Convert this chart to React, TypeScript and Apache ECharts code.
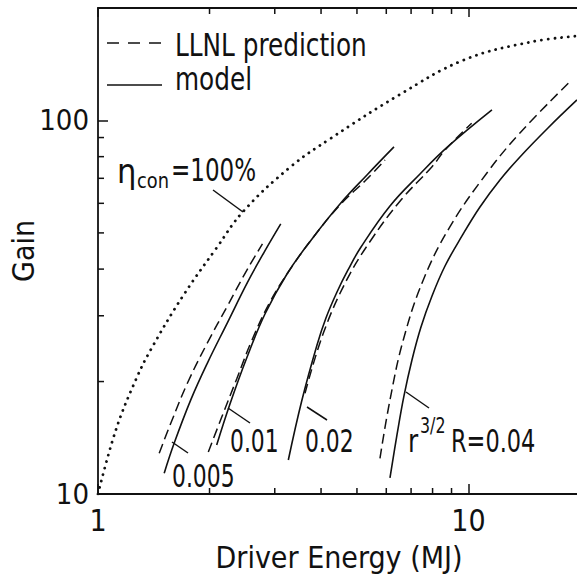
import React, { useEffect, useRef } from "react";
import * as echarts from "echarts";

// ---- axes ----
const X_MIN = 1;
const X_MAX = 20;
const Y_MIN = 10;
const Y_MAX = 200;
const xTickLabels = [1, 10];
const yTickLabels = [10, 100];
const xMinorTicks = [2, 3, 4, 5, 6, 7, 8, 9];
const yMinorTicks = [20, 30, 40, 50, 60, 70, 80, 90];

// ---- eta_con = 100 % (dotted) ----
const eta100X = [1, 1.118, 1.266, 1.39, 1.694, 2.08, 2.475, 3.313, 4.246, 6.48, 9.69, 14.69, 20];
const eta100Y = [10, 14.86, 20.26, 24.4, 33.85, 45.3, 57.3, 75.2, 89.5, 116.8, 145.0, 162.1, 168.5];

// ---- r^{3/2}R = 0.005 ----
const model005X = [1.509, 1.606, 1.781, 1.975, 2.236, 2.532, 2.807, 3.114];
const model005Y = [11.37, 13.69, 17.89, 22.45, 28.77, 36.86, 44.36, 52.86];
const llnl005X = [1.463, 1.573, 1.745, 1.975, 2.236, 2.532, 2.779];
const llnl005Y = [12.86, 15.49, 19.85, 25.42, 31.88, 40.01, 46.71];

// ---- r^{3/2}R = 0.01 ----
const model01X = [2.091, 2.271, 2.52, 2.823, 3.237, 3.781, 4.5, 5.321, 6.294];
const model01Y = [13.53, 17.42, 23.13, 30.33, 38.82, 48.18, 59.76, 71.46, 84.95];
const llnl01X = [1.985, 2.158, 2.368, 2.604, 2.912, 3.237, 3.781, 4.5, 5.288, 5.953];
const llnl01Y = [12.96, 16.07, 20.32, 25.84, 32.66, 38.82, 48.18, 59.4, 69.29, 78.39];

// ---- r^{3/2}R = 0.02 ----
const model02X = [3.264, 3.547, 3.901, 4.124, 4.417, 4.729, 5.128, 6.139, 7.398, 8.75, 11.57];
const model02Y = [12.33, 17.74, 25.06, 29.6, 34.74, 39.79, 45.84, 59.03, 71.9, 84.69, 106.7];
const llnl02X = [3.62, 4.056, 4.692, 5.458, 6.574, 7.972, 8.643, 10.2];
const llnl02Y = [18.61, 26.93, 37.41, 47.86, 61.25, 75.19, 83.37, 98.28];

// ---- r^{3/2}R = 0.04 ----
const model04X = [6.139, 6.412, 6.697, 7.038, 7.444, 7.972, 8.643, 9.605, 10.74, 12.16, 13.77, 16.39, 19.63];
const model04Y = [11.04, 14.39, 18.3, 22.85, 28.0, 33.89, 40.77, 49.07, 58.67, 69.29, 79.86, 95.48, 113.5];
const llnl04X = [5.769, 6.139, 6.668, 7.551, 8.916, 11.2, 13.77, 18.6];
const llnl04Y = [12.46, 17.85, 25.84, 37.41, 51.96, 72.22, 92.58, 125.8];

const legendLabels = ["LLNL prediction", "model"];

const FONT = "'DejaVu Sans Condensed', 'DejaVu Sans', sans-serif";
const INK = "#111";

const toPairs = (xs: number[], ys: number[]) => xs.map((x, i) => [x, ys[i]]);
const isTick = (v: number, list: number[]) => list.some((t) => Math.abs(v - t) < t * 1e-6);

export default function App() {
  const ref = useRef<HTMLDivElement>(null);

  useEffect(() => {
    const chart = echarts.init(ref.current!, null, { renderer: "svg" });

    const solid = (name: string, xs: number[], ys: number[]) => ({
      type: "line",
      name,
      data: toPairs(xs, ys),
      showSymbol: false,
      smooth: 0.4,
      silent: true,
      lineStyle: { color: INK, width: 1.6 },
      z: 3,
    });
    const dashed = (name: string, xs: number[], ys: number[]) => ({
      type: "line",
      name,
      data: toPairs(xs, ys),
      showSymbol: false,
      smooth: 0.4,
      silent: true,
      lineStyle: { color: INK, width: 1.5, type: [10, 5] },
      z: 3,
    });

    const tickStyle = { stroke: INK, lineWidth: 1.5 };
    const txt = (text: string, x: number, y: number, size = 32, sx = 0.86) => ({
      type: "text",
      x,
      y,
      scaleX: sx,
      silent: true,
      style: {
        text,
        fontSize: size,
        fontFamily: FONT,
        fill: INK,
        align: "left",
        verticalAlign: "middle",
      },
    });
    const seg = (x1: number, y1: number, x2: number, y2: number, dash?: number[]) => ({
      type: "line",
      silent: true,
      shape: { x1, y1, x2, y2 },
      style: { stroke: INK, lineWidth: 1.5, lineDash: dash || null },
    });

    const axisCommonLine = { show: true, lineStyle: { color: INK, width: 1.8 } };

    const option: any = {
      animation: false,
      backgroundColor: "#fff",
      grid: {
        left: 98,
        top: 8,
        width: 482,
        height: 486,
        containLabel: false,
        outerBoundsMode: "none",
      },
      xAxis: [
        {
          type: "log",
          logBase: 10,
          min: X_MIN,
          max: X_MAX,
          position: "bottom",
          name: "Driver Energy (MJ)",
          nameLocation: "middle",
          nameGap: 48,
          nameMoveOverlap: false,
          nameTextStyle: { fontSize: 30, fontFamily: FONT, color: INK },
          axisLine: axisCommonLine,
          axisTick: { show: true, inside: true, length: 10, lineStyle: { color: INK, width: 1.5 } },
          axisLabel: {
            fontSize: 30,
            fontFamily: FONT,
            color: INK,
            margin: 11,
            showMaxLabel: false,
            formatter: (v: number) => (isTick(v, xTickLabels) ? String(Math.round(v)) : ""),
          },
          splitLine: { show: false },
        },
        {
          type: "log",
          logBase: 10,
          min: X_MIN,
          max: X_MAX,
          position: "top",
          axisLine: axisCommonLine,
          axisTick: { show: true, inside: true, length: 9, lineStyle: { color: INK, width: 1.5 } },
          axisLabel: { show: false },
          splitLine: { show: false },
        },
      ],
      yAxis: [
        {
          type: "log",
          logBase: 10,
          min: Y_MIN,
          max: Y_MAX,
          position: "left",
          name: "Gain",
          nameLocation: "middle",
          nameGap: 60,
          nameMoveOverlap: false,
          nameTextStyle: { fontSize: 30, fontFamily: FONT, color: INK },
          axisLine: axisCommonLine,
          axisTick: { show: true, inside: true, length: 10, lineStyle: { color: INK, width: 1.5 } },
          axisLabel: {
            fontSize: 29,
            fontFamily: FONT,
            color: INK,
            margin: 9,
            showMaxLabel: false,
            formatter: (v: number) => (isTick(v, yTickLabels) ? String(Math.round(v)) : ""),
          },
          splitLine: { show: false },
        },
      ],
      series: [
        {
          type: "line",
          name: "eta_con = 100%",
          data: toPairs(eta100X, eta100Y),
          showSymbol: false,
          smooth: 0.4,
          silent: true,
          lineStyle: { color: INK, width: 2.8, type: [0.1, 6.6], cap: "round" },
          z: 3,
        },
        solid("model 0.005", model005X, model005Y),
        dashed("LLNL 0.005", llnl005X, llnl005Y),
        solid("model 0.01", model01X, model01Y),
        dashed("LLNL 0.01", llnl01X, llnl01Y),
        solid("model 0.02", model02X, model02Y),
        dashed("LLNL 0.02", llnl02X, llnl02Y),
        solid("model 0.04", model04X, model04Y),
        dashed("LLNL 0.04", llnl04X, llnl04Y),
        {
          type: "custom",
          name: "x minor ticks",
          silent: true,
          clip: false,
          data: xMinorTicks.map((v) => [v, Y_MIN]),
          renderItem: (_p: any, api: any) => {
            const v = api.value(0);
            const b = api.coord([v, Y_MIN]);
            const t = api.coord([v, Y_MAX]);
            return {
              type: "group",
              children: [
                { type: "line", shape: { x1: b[0], y1: b[1], x2: b[0], y2: b[1] - 6 }, style: tickStyle },
                { type: "line", shape: { x1: t[0], y1: t[1], x2: t[0], y2: t[1] + 6 }, style: tickStyle },
              ],
            };
          },
        },
        {
          type: "custom",
          name: "y minor ticks",
          silent: true,
          clip: false,
          data: yMinorTicks.map((v) => [X_MIN, v]),
          renderItem: (_p: any, api: any) => {
            const v = api.value(1);
            const l = api.coord([X_MIN, v]);
            return {
              type: "line",
              shape: { x1: l[0], y1: l[1], x2: l[0] + 6, y2: l[1] },
              style: tickStyle,
            };
          },
        },
      ],
      graphic: [
        // legend
        seg(107, 43, 162, 43, [12, 9]),
        txt(legendLabels[0], 175, 45, 32, 0.86),
        seg(107, 85, 162, 85),
        txt(legendLabels[1], 175, 79, 32, 0.86),
        // eta_con = 100 %
        txt("η", 117, 171, 34, 1),
        txt("con", 137, 181, 22, 0.9),
        txt("=100%", 171, 170, 32, 0.8),
        seg(213, 190, 243, 212),
        // parameter labels
        txt("0.005", 172, 476, 32, 0.76),
        seg(172, 442, 188, 453),
        txt("0.01", 230, 441, 32, 0.76),
        seg(228, 408, 250, 423),
        txt("0.02", 305, 441, 32, 0.76),
        seg(307, 407, 327, 420),
        txt("r", 408, 441, 32, 0.86),
        txt("3/2", 420, 426, 22, 0.8),
        txt("R=0.04", 451, 441, 32, 0.78),
        seg(406, 392, 429, 408),
      ],
    };

    chart.setOption(option);
    return () => chart.dispose();
  }, []);

  return (
    <div
      ref={ref}
      style={{ position: "absolute", left: 0, top: 0, width: 577, height: 580, background: "#fff" }}
    />
  );
}
